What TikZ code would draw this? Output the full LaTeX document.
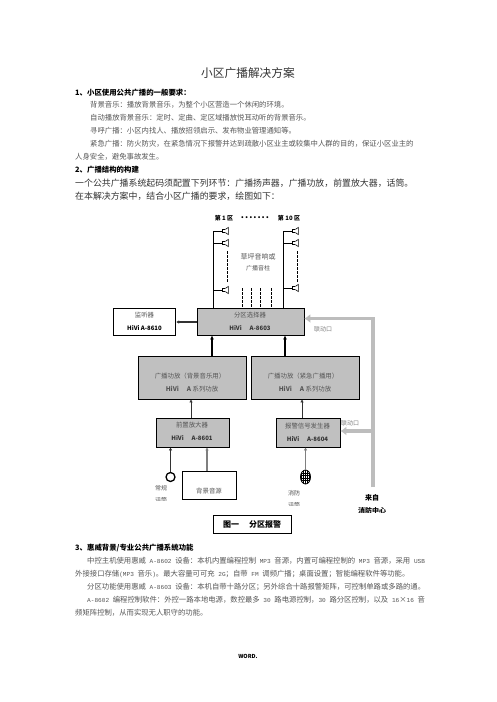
\documentclass[tikz,border=0pt]{standalone}
\usepackage{fontspec}
\setmainfont{Noto Sans CJK SC}
\newfontfamily\halfwidth{Liberation Mono}
\usetikzlibrary{arrows.meta,calc,positioning,shapes.geometric}
\definecolor{ink}{HTML}{333333}
\definecolor{bodyink}{HTML}{555555}
\definecolor{boxgray}{HTML}{C0C0C0}
\definecolor{linkgray}{HTML}{BDBDBD}
\definecolor{feedgray}{HTML}{7F7F7F}
% full-width punctuation
\newcommand{\zcomma}{\symbol{65292}}
\newcommand{\zcolon}{\symbol{65306}}
\newcommand{\zsemi}{\symbol{65307}}
\newcommand{\zopen}{\symbol{65288}}
\newcommand{\zclose}{\symbol{65289}}
% half-width latin in the body lines
\newcommand{\hw}[1]{{\halfwidth\fontsize{6.1}{9}\selectfont #1}}
\tikzset{>=Latex,line width=.8pt,
  every node/.style={inner sep=0pt,text=ink},
  bodyline/.style={anchor=west,font=\fontsize{7.35}{9}\selectfont,text=bodyink},
  bigline/.style={anchor=west,font=\fontsize{8.9}{10}\selectfont},
  headline/.style={anchor=west,font=\fontsize{7.4}{9}\selectfont\bfseries,text=black},
  devbox/.style={draw=black,fill=boxgray,rectangle,line width=.8pt},
  plainbox/.style={draw=black,fill=white,rectangle,line width=.8pt},
  boxlabel/.style={font=\fontsize{6.4}{8}\selectfont,text=bodyink},
  modellabel/.style={font=\fontsize{6}{8}\selectfont\bfseries,text=ink},
  zonelabel/.style={font=\fontsize{6}{8}\selectfont\bfseries,text=black},
  smalllabel/.style={font=\fontsize{6}{8}\selectfont,text=bodyink},
  feed/.style={->,draw=black,line width=1.6pt,-{Latex[length=4pt,width=4pt]}},
  thinfeed/.style={draw=ink,line width=1pt,-{Latex[length=3pt,width=3.5pt]}},
  grayfeed/.style={draw=feedgray,line width=1.2pt,-{Latex[length=3pt,width=3.5pt]}},
  linkline/.style={draw=linkgray,line width=3.6pt},
  linkarrow/.style={linkline,-{Latex[length=6pt,width=9pt]}},
  wire/.style={draw=black,line width=.7pt},
  dashwire/.style={draw=black,dashed,dash pattern=on 2.5pt off 1.5pt,line width=.6pt},
  speaker/.pic={\fill[black] (0,-2.2) rectangle (3.4,2.2);
    \fill[white] (.8,-1.4) rectangle (2.8,1.4);
    \draw[line width=.6pt] (3.4,-1.6)--(6.4,-3.6)--(6.4,3.6)--(3.4,1.6);}}
\begin{document}
\begin{tikzpicture}[x=1pt,y=-1pt]
\useasboundingbox (0,0) rectangle(496,702);
\fill[white] (0,0) rectangle(496,702);
% text above the figure
\node (title) at (248,73) {\fontsize{11.7}{13}\selectfont 小区广播解决方案};
\node[headline] (headone) at (75,93) {1、小区使用公共广播的一般要求\zcolon};
\node[bodyline] (bodya) at (90,105) {背景音乐\zcolon 播放背景音乐\zcomma 为整个小区营造一个休闲的环境。};
\node[bodyline] (bodyb) at (90,118) {自动播放背景音乐\zcolon 定时、定曲、定区域播放悦耳动听的背景音乐。};
\node[bodyline] (bodyc) at (90,131) {寻呼广播\zcolon 小区内找人、播放招领启示、发布物业管理通知等。};
\node[bodyline] (bodyd) at (90,144) {紧急广播\zcolon 防火防灾\zcomma 在紧急情况下报警并达到疏散小区业主或较集中人群的目的\zcomma 保证小区业主的};
\node[bodyline] (bodye) at (75,157) {人身安全\zcomma 避免事故发生。};
\node[headline] (headtwo) at (75,170) {2、广播结构的构建};
\node[bigline] (biga) at (75,183) {一个公共广播系统起码须配置下列环节\zcolon 广播扬声器\zcomma 广播功放\zcomma 前置放大器\zcomma 话筒。};
\node[bigline] (bigb) at (75,196) {在本解决方案中\zcomma 结合小区广播的要求\zcomma 绘图如下\zcolon};
% zones and speakers
\node[zonelabel] (zonea) at (224,218) {第 1 区};
\node[zonelabel] (zonedots) at (255,218) {\fontsize{9}{9}\selectfont\addfontfeature{LetterSpace=11}.......};
\node[zonelabel] (zoneb) at (289,218) {第 10 区};
\node[smalllabel,font=\fontsize{7}{8}\selectfont] (lawn) at (258,257) {草坪音响或};
\node[smalllabel] (column) at (258,268) {广播音柱};
% boxes
\node[devbox,minimum width=107pt,minimum height=27pt] (selector) at (250.5,321.5) {};
\node[plainbox,minimum width=62.5pt,minimum height=27.5pt] (monitor) at (144.5,322) {};
\node[devbox,minimum width=108pt,minimum height=43pt] (ampa) at (192,377.5) {};
\node[devbox,minimum width=108pt,minimum height=43pt] (ampb) at (305,377.5) {};
\node[devbox,minimum width=73pt,minimum height=29pt] (preamp) at (192.5,432.5) {};
\node[devbox,minimum width=64pt,minimum height=29pt] (alarm) at (308,432.5) {};
\node[plainbox,minimum width=54pt,minimum height=28pt] (source) at (209,485) {};
\node[plainbox,minimum width=78pt,minimum height=18pt,font=\fontsize{8}{9}\selectfont\bfseries] (caption) at (252,524) {\textcolor{black}{图一\hspace{10pt}分区报警}};
% box texts
\node[boxlabel] (selectort) at (250,315) {分区选择器};
\node[modellabel] (selectorm) at (250,328.5) {HiVi\hspace{8pt}A-8603};
\node[boxlabel] (monitort) at (144.5,315) {监听器};
\node[modellabel,text=black] (monitorm) at (144.5,328.5) {HiVi A-8610};
\node[boxlabel] (ampat) at (190,376) {广播功放\zopen 背景音乐用\zclose};
\node[boxlabel] (ampam) at (192,389) {\textbf{HiVi\hspace{8pt}A} 系列功放};
\node[boxlabel] (ampbt) at (303,376) {广播功放\zopen 紧急广播用\zclose};
\node[boxlabel] (ampbm) at (305,389) {\textbf{HiVi\hspace{8pt}A} 系列功放};
\node[boxlabel] (preampt) at (192,425) {前置放大器};
\node[modellabel] (preampm) at (192,438.5) {HiVi\hspace{8pt}A-8601};
\node[boxlabel] (alarmt) at (307.5,426) {报警信号发生器};
\node[modellabel] (alarmm) at (307.5,439) {HiVi\hspace{8pt}A-8604};
\node[boxlabel] (sourcet) at (209,491.5) {背景音源};
% speaker lines
\coordinate (zoneleft) at (213,231);
\coordinate (zoneright) at (283,231);
\draw[wire] (zoneleft)--(zoneleft |- selector.north);
\draw[wire] (zoneright)--(zoneright |- selector.north);
\foreach \y in {231,243,290} {
  \draw[wire] (213,\y)--(222,\y);
  \pic at (222,\y) {speaker};
}
\foreach \y in {231,243,288} {
  \draw[wire] (283,\y)--(292,\y);
  \pic at (292,\y) {speaker};
}
\draw[dashwire] (227,251)--(227,282);
\draw[dashwire] (297.5,251)--(297.5,282);
\foreach \x in {242,251.5,260.5,271.5} {
  \coordinate (drop) at (\x,288);
  \draw[dashwire] (drop)--(drop |- selector.north);
}
% connectors
\draw[draw=ink,line width=1.2pt,-{Latex[length=3pt,width=3.5pt]}] (selector.west |- monitor.east)--(monitor.east);
\coordinate (ampaup) at (212,0);
\coordinate (ampbup) at (285,0);
\draw[feed] (ampaup |- ampa.north)--(ampaup |- selector.south);
\draw[feed] (ampbup |- ampb.north)--(ampbup |- selector.south);
\draw[thinfeed] (preamp.north -| 191,0)--(191,0 |- ampa.south);
\draw[thinfeed] (alarm.north -| 302,0)--(302,0 |- ampb.south);
% inputs
\node[circle,draw=black,line width=1.3pt,minimum size=9pt,fill=white] (micnormal) at (170.5,477) {};
\draw[thinfeed,line width=.8pt] (micnormal.north)--(micnormal.north |- preamp.south);
\draw[grayfeed] (source.north -| 207,0)--(207,0 |- preamp.south);
\node[ellipse,draw=black,line width=.8pt,minimum width=10pt,minimum height=14pt,fill=white] (micfire) at (305.5,477) {};
\begin{scope}\clip (305.5,477) ellipse(5pt and 7pt);
\foreach \x in {-4,-2,0,2,4} {\draw[line width=.7pt] (305.5+\x,469)--(305.5+\x,485);}
\foreach \y in {-4,-1.5,1,3.5} {\draw[line width=.7pt] (299,477+\y)--(312,477+\y);}
\end{scope}
\draw[grayfeed] (micfire.north)--(micfire.north |- alarm.south);
% link from the fire centre
\coordinate (linkfoot) at (373,487);
\coordinate (linkcorner) at (373,318.5);
\coordinate (linkbranch) at (373,431);
\draw[linkarrow] (linkfoot)--(linkcorner)--(linkcorner -| selector.east);
\draw[linkarrow] (linkbranch)--(linkbranch -| alarm.east);
\node[smalllabel,text=feedgray] (linka) at (323,329.5) {联动口};
\node[smalllabel,text=feedgray] (linkb) at (350,423) {联动口};
% labels cut off at the bottom
\begin{scope}
\clip (130,480) rectangle(190,500) (270,485) rectangle(325,505.5) (345,490) rectangle(400,512);
\node[smalllabel] (normallabel) at (161,488) {常规};
\node[smalllabel] (normalmic) at (161,500) {话筒};
\node[smalllabel] (firelabel) at (294,493) {消防};
\node[smalllabel] (firemic) at (294,505.5) {话筒};
\node[zonelabel,font=\fontsize{7}{8}\selectfont\bfseries] (fromlabel) at (372,498) {来自};
\node[zonelabel,font=\fontsize{7}{8}\selectfont\bfseries] (centrelabel) at (372,511) {消防中心};
\end{scope}
% text below the figure
\node[headline] (headthree) at (75,548) {3、惠威背景/专业公共广播系统功能};
\node[bodyline] (lowa) at (87,561) {中控主机使用惠威\hw{ A-8602 }设备\zcolon 本机内置编程控制\hw{ MP3 }音源\zcomma 内置可编程控制的\hw{ MP3 }音源\zcomma 采用\hw{ USB}};
\node[bodyline] (lowb) at (75,574) {外接接口存储\hw{(MP3 }音乐\hw{)}。最大容量可可充\hw{ 2G}\zsemi 自带\hw{ FM }调频广播\zsemi 桌面设置\zsemi 智能编程软件等功能。};
\node[bodyline] (lowc) at (87,587) {分区功能使用惠威\hw{ A-8603 }设备\zcolon 本机自带十路分区\zsemi 另外综合十路报警矩阵\zcomma 可控制单路或多路的通。};
\node[bodyline] (lowd) at (87,599.5) {\hw{A-8602 }编程控制软件\zcolon 外控一路本地电源\zcomma 数控最多\hw{ 30 }路电源控制\zcomma\hw{30 }路分区控制\zcomma 以及\hw{ 16}×\hw{16 }音};
\node[bodyline] (lowe) at (75,613) {频矩阵控制\zcomma 从而实现无人职守的功能。};
\node[font=\fontsize{5.5}{7}\selectfont\bfseries,text=black] (pagefoot) at (248,656) {WORD.};
\end{tikzpicture}
\end{document}
